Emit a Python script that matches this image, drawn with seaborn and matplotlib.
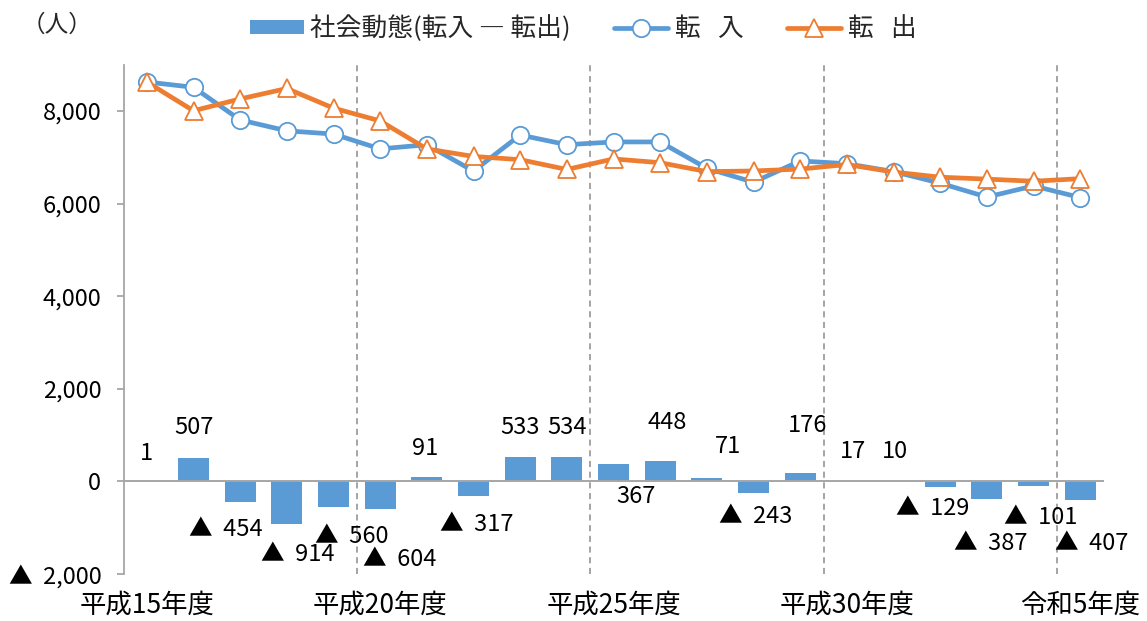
import numpy as np
import pandas as pd
import matplotlib
matplotlib.use("Agg")
import matplotlib.pyplot as plt
import seaborn as sns
from matplotlib.ticker import FuncFormatter, FixedLocator
from matplotlib.patches import Patch
from matplotlib.lines import Line2D

# ---- data ----
years = ["平成15年度", "平成16年度", "平成17年度", "平成18年度", "平成19年度",
         "平成20年度", "平成21年度", "平成22年度", "平成23年度", "平成24年度",
         "平成25年度", "平成26年度", "平成27年度", "平成28年度", "平成29年度",
         "平成30年度", "令和元年度", "令和2年度", "令和3年度", "令和4年度", "令和5年度"]
net = [1, 507, -454, -914, -560, -604, 91, -317, 533, 534, 367, 448, 71, -243,
       176, 17, 10, -129, -387, -101, -407]
inflow = [8625, 8510, 7805, 7570, 7500, 7180, 7270, 6700, 7480, 7270, 7330, 7330,
          6760, 6460, 6920, 6860, 6690, 6440, 6140, 6380, 6130]
outflow = [8624, 8003, 8259, 8484, 8060, 7784, 7179, 7017, 6947, 6736, 6963, 6882,
           6689, 6703, 6744, 6843, 6680, 6569, 6527, 6481, 6537]
tick_labels = ["平成15年度", "平成20年度", "平成25年度", "平成30年度", "令和5年度"]
series_names = ["社会動態(転入 ― 転出)", "転   入", "転   出"]
unit_label = "（人）"

# label placement (x shift in category units, y in data units)
label_dx = [0, 0, -0.31, 0.24, 0.39, 0.42, -0.04, 0.07, 0, 0, 0.48, 0.16, 0.45,
            0.05, 0.16, 0.13, 0.03, -0.16, 0.08, 0.16, 0.25]
label_y = [600, 1165, -1035, -1575, -1185, -1680, 710, -930, 1165, 1165, -320, 1270,
           755, -755, 1207, 647, 647, -582, -1337, -776, -1337]

BLUE = "#5B9BD5"
ORANGE = "#ED7D31"
GRAY = "#A6A6A6"

sns.set_theme(style="white")
plt.rcParams['font.family'] = ['Noto Sans CJK JP', 'DejaVu Sans']

fig = plt.figure(figsize=(11.47, 6.21), dpi=100)
ax = fig.add_axes([123.5 / 1147, 47 / 621, 980 / 1147, 509.4 / 621])

xpos = np.arange(len(years))
df = pd.DataFrame({"x": xpos, "year": years, "net": net,
                   "inflow": inflow, "outflow": outflow})

for v in np.arange(4.5, len(years), 5):
    ax.axvline(v, color="#8C8C8C", lw=1.1, ls=(0, (4, 3)), zorder=1)

sns.barplot(data=df, x="x", y="net", native_scale=True, width=0.66, color=BLUE,
            saturation=1, linewidth=0, ax=ax, zorder=2)
ax.axhline(0, color=GRAY, lw=1.4, zorder=3)

sns.lineplot(data=df, x="x", y="inflow", color=BLUE, lw=3.4, marker="o", ms=12.5,
             mfc="white", mec=BLUE, mew=1.3, zorder=4, ax=ax)
sns.lineplot(data=df, x="x", y="outflow", color=ORANGE, lw=3.4, marker="^", ms=13.5,
             mfc="white", mec=ORANGE, mew=1.3, zorder=5, ax=ax)

for i, v in enumerate(net):
    s = f"{v:,}" if v >= 0 else f"▲  {abs(v):,}"
    ax.text(i + label_dx[i], label_y[i], s, ha="center", va="center",
            fontsize=17, color="black", zorder=6)

ax.set_xlim(-0.5, len(years) - 0.5)
ax.set_ylim(-2000, 9000)
ax.yaxis.set_major_locator(FixedLocator(np.arange(-2000, 8001, 2000)))
ax.yaxis.set_major_formatter(FuncFormatter(
    lambda v, p: f"{v:,.0f}" if v >= 0 else f"▲  {abs(v):,.0f}"))
ax.set_xticks(xpos[::5])
ax.set_xticklabels(tick_labels)
ax.set_xlabel("")
ax.set_ylabel("")

for sp in ["top", "right", "bottom"]:
    ax.spines[sp].set_visible(False)
ax.spines["left"].set_color(GRAY)
ax.spines["left"].set_linewidth(1.3)

ax.tick_params(axis="y", left=True, length=5, width=1.3, color=GRAY, pad=11,
               labelsize=17, labelcolor="black", direction="out")
ax.tick_params(axis="x", bottom=False, length=0, pad=13, labelsize=19,
               labelcolor="black")

handles = [
    Patch(facecolor=BLUE, edgecolor="none"),
    Line2D([], [], color=BLUE, lw=3.4, marker="o", ms=12.5, mfc="white",
           mec=BLUE, mew=1.3),
    Line2D([], [], color=ORANGE, lw=3.4, marker="^", ms=13.5, mfc="white",
           mec=ORANGE, mew=1.3),
]
fig.legend(handles, series_names, loc="center",
           bbox_to_anchor=(583 / 1147, 1 - 29 / 621), ncol=3, frameon=False,
           fontsize=18.5, handlelength=2.1, handletextpad=0.25, columnspacing=1.7,
           handleheight=0.45)

fig.text(57 / 1147, 1 - 25 / 621, unit_label, ha="center", va="center", fontsize=17)

fig.savefig("out.png", dpi=100)
